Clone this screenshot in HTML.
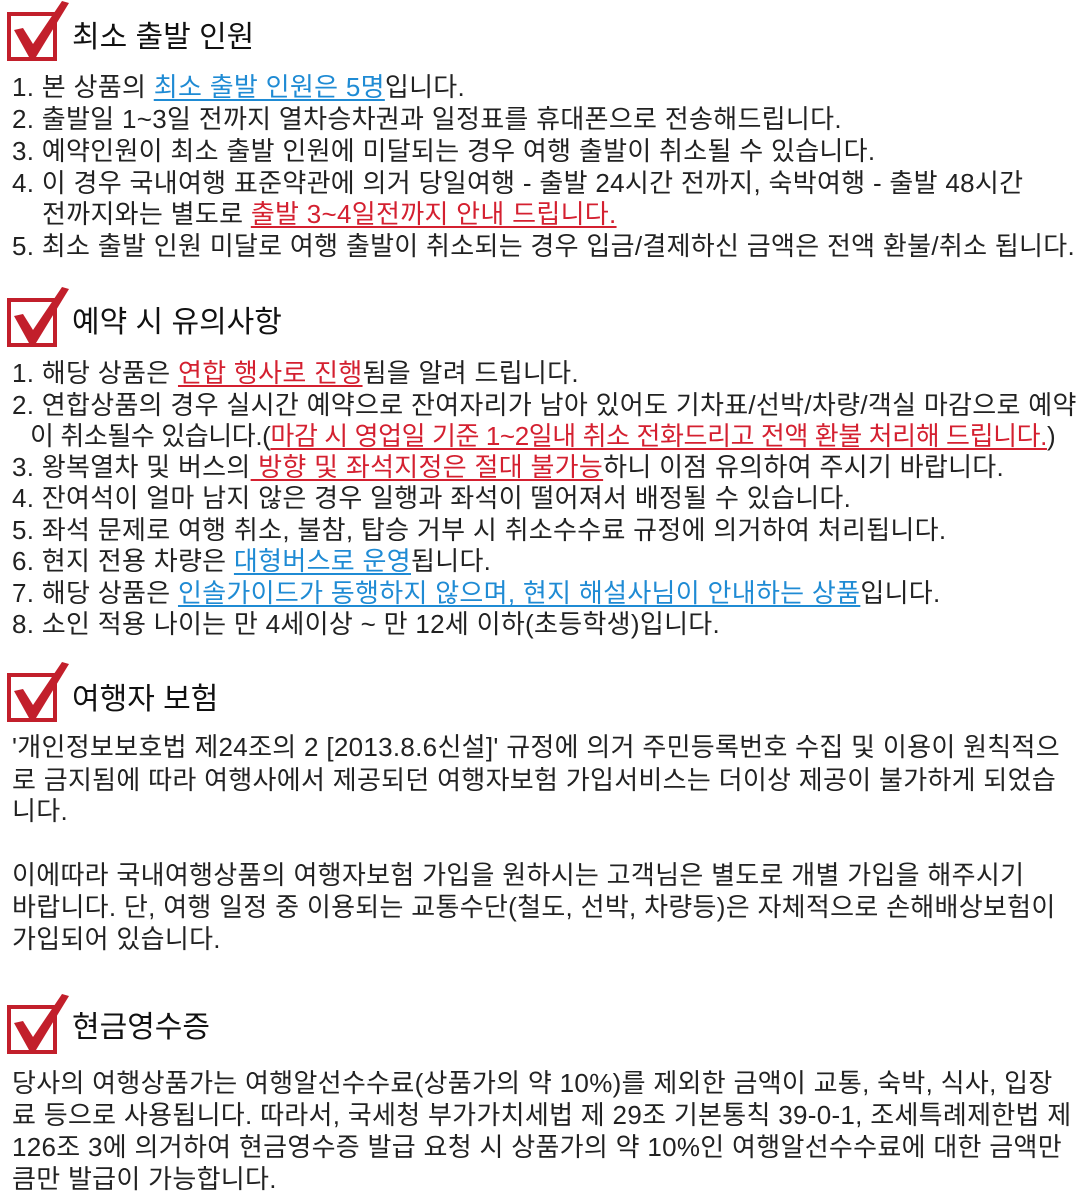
<!DOCTYPE html>
<html><head><meta charset="utf-8"><style>
body{margin:0;width:1080px;height:1200px;background:#fff;position:relative;overflow:hidden;font-family:"Liberation Sans","Noto Sans CJK KR",sans-serif;color:#222;}
.l{position:absolute;left:12px;font-size:26px;line-height:32px;white-space:nowrap;letter-spacing:0.3px;}
.h{position:absolute;left:72px;font-size:30px;line-height:40px;white-space:nowrap;color:#111;}
.b{color:#1f8bd4;text-decoration:underline;text-underline-offset:3px;}
.r{color:#d42030;text-decoration:underline;text-underline-offset:3px;}
svg{position:absolute;left:4px;}
</style></head><body>
<svg width="66" height="62" style="top:0"><rect x="5" y="14" width="46" height="45" fill="none" stroke="#c21f2b" stroke-width="4"/><polygon points="10,30 19,28 29,44 58,1 65,3 32,57 25,57" fill="#c21f2b"/></svg>
<div class="h" style="top:18px">최소 출발 인원</div>
<div class="l" style="top:71px">1. 본 상품의 <span class="b">최소 출발 인원은 5명</span>입니다.</div>
<div class="l" style="top:103px">2. 출발일 1~3일 전까지 열차승차권과 일정표를 휴대폰으로 전송해드립니다.</div>
<div class="l" style="top:135px">3. 예약인원이 최소 출발 인원에 미달되는 경우 여행 출발이 취소될 수 있습니다.</div>
<div class="l" style="top:167px">4. 이 경우 국내여행 표준약관에 의거 당일여행 - 출발 24시간 전까지, 숙박여행 - 출발 48시간</div>
<div class="l" style="top:198px;left:42px">전까지와는 별도로 <span class="r">출발 3~4일전까지 안내 드립니다.</span></div>
<div class="l" style="top:230px">5. 최소 출발 인원 미달로 여행 출발이 취소되는 경우 입금/결제하신 금액은 전액 환불/취소 됩니다.</div>

<svg width="66" height="62" style="top:286px"><rect x="5" y="14" width="46" height="45" fill="none" stroke="#c21f2b" stroke-width="4"/><polygon points="10,30 19,28 29,44 58,1 65,3 32,57 25,57" fill="#c21f2b"/></svg>
<div class="h" style="top:303px">예약 시 유의사항</div>
<div class="l" style="top:357px">1. 해당 상품은 <span class="r">연합 행사로 진행</span>됨을 알려 드립니다.</div>
<div class="l" style="top:389px">2. 연합상품의 경우 실시간 예약으로 잔여자리가 남아 있어도 기차표/선박/차량/객실 마감으로 예약</div>
<div class="l" style="top:420px;left:30px;letter-spacing:-0.4px">이 취소될수 있습니다.(<span class="r">마감 시 영업일 기준 1~2일내 취소 전화드리고 전액 환불 처리해 드립니다.</span>)</div>
<div class="l" style="top:451px">3. 왕복열차 및 버스의<span class="r"> 방향 및 좌석지정은 절대 불가능</span>하니 이점 유의하여 주시기 바랍니다.</div>
<div class="l" style="top:482px">4. 잔여석이 얼마 남지 않은 경우 일행과 좌석이 떨어져서 배정될 수 있습니다.</div>
<div class="l" style="top:514px">5. 좌석 문제로 여행 취소, 불참, 탑승 거부 시 취소수수료 규정에 의거하여 처리됩니다.</div>
<div class="l" style="top:545px">6. 현지 전용 차량은 <span class="b">대형버스로 운영</span>됩니다.</div>
<div class="l" style="top:577px">7. 해당 상품은 <span class="b">인솔가이드가 동행하지 않으며, 현지 해설사님이 안내하는 상품</span>입니다.</div>
<div class="l" style="top:608px">8. 소인 적용 나이는 만 4세이상 ~ 만 12세 이하(초등학생)입니다.</div>

<svg width="66" height="62" style="top:661px"><rect x="5" y="14" width="46" height="45" fill="none" stroke="#c21f2b" stroke-width="4"/><polygon points="10,30 19,28 29,44 58,1 65,3 32,57 25,57" fill="#c21f2b"/></svg>
<div class="h" style="top:680px">여행자 보험</div>
<div class="l" style="top:731px">'개인정보보호법 제24조의 2 [2013.8.6신설]' 규정에 의거 주민등록번호 수집 및 이용이 원칙적으</div>
<div class="l" style="top:764px">로 금지됨에 따라 여행사에서 제공되던 여행자보험 가입서비스는 더이상 제공이 불가하게 되었습</div>
<div class="l" style="top:795px">니다.</div>
<div class="l" style="top:859px">이에따라 국내여행상품의 여행자보험 가입을 원하시는 고객님은 별도로 개별 가입을 해주시기</div>
<div class="l" style="top:891px">바랍니다. 단, 여행 일정 중 이용되는 교통수단(철도, 선박, 차량등)은 자체적으로 손해배상보험이</div>
<div class="l" style="top:923px">가입되어 있습니다.</div>

<svg width="66" height="62" style="top:993px"><rect x="5" y="14" width="46" height="45" fill="none" stroke="#c21f2b" stroke-width="4"/><polygon points="10,30 19,28 29,44 58,1 65,3 32,57 25,57" fill="#c21f2b"/></svg>
<div class="h" style="top:1008px">현금영수증</div>
<div class="l" style="top:1067px">당사의 여행상품가는 여행알선수수료(상품가의 약 10%)를 제외한 금액이 교통, 숙박, 식사, 입장</div>
<div class="l" style="top:1099px">료 등으로 사용됩니다. 따라서, 국세청 부가가치세법 제 29조 기본통칙 39-0-1, 조세특례제한법 제</div>
<div class="l" style="top:1131px">126조 3에 의거하여 현금영수증 발급 요청 시 상품가의 약 10%인 여행알선수수료에 대한 금액만</div>
<div class="l" style="top:1163px">큼만 발급이 가능합니다.</div>
</body></html>
